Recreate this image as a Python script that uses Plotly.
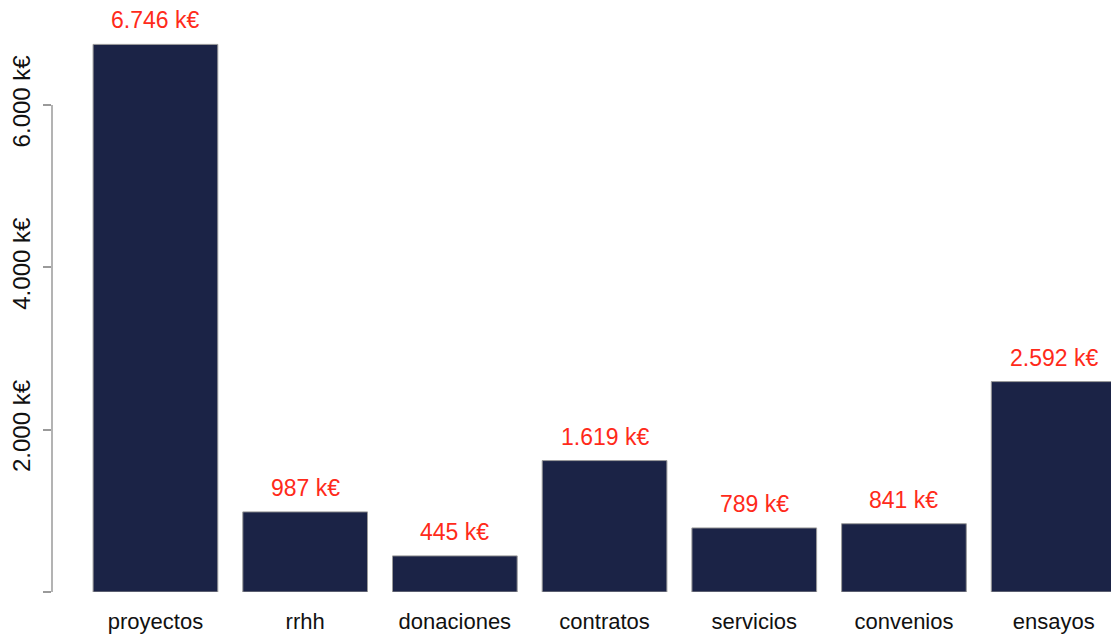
"""Bar chart of amounts by category (k€)."""

import plotly.graph_objects as go

categories = ["proyectos", "rrhh", "donaciones", "contratos", "servicios", "convenios", "ensayos"]
values = [6746, 987, 445, 1619, 789, 841, 2592]
value_labels = ["6.746 k€", "987 k€", "445 k€", "1.619 k€", "789 k€", "841 k€", "2.592 k€"]
y_tickvals = [0, 2000, 4000, 6000]
y_ticktext = ["", "2.000 k€", "4.000 k€", "6.000 k€"]

BAR_COLOR = "#1b2346"
LABEL_COLOR = "#ff2a1a"
FONT = "Liberation Sans, Arial, sans-serif"

fig = go.Figure(
    go.Bar(
        x=categories,
        y=values,
        marker=dict(color=BAR_COLOR, line=dict(color="#9a9a9a", width=1)),
        hoverinfo="skip",
    )
)

# value labels above bars
for cat, val, txt in zip(categories, values, value_labels):
    fig.add_annotation(
        x=cat, y=val, text=txt,
        showarrow=False, yanchor="bottom", yshift=9,
        font=dict(color=LABEL_COLOR, size=23, family=FONT),
    )

# R-style axis line only spanning the tick range
fig.add_shape(
    type="line", xref="paper", yref="y",
    x0=0, x1=0, y0=0, y1=6000,
    line=dict(color="#9a9a9a", width=1.5),
)

fig.update_layout(
    width=1111,
    height=636,
    margin=dict(l=52, r=0, t=0, b=44),
    paper_bgcolor="white",
    plot_bgcolor="white",
    showlegend=False,
    bargap=0.167,
    font=dict(family=FONT, color="#111111"),
    xaxis=dict(
        range=[-0.691, 6.383],
        showgrid=False, zeroline=False, showline=False,
        tickfont=dict(size=22),
        ticks="", ticklabelstandoff=14,
    ),
    yaxis=dict(
        range=[0, 7293],
        showgrid=False, zeroline=False, showline=False,
        tickvals=y_tickvals, ticktext=y_ticktext,
        ticks="outside", ticklen=8, tickcolor="#9a9a9a", tickwidth=1.5,
        tickangle=-90, tickfont=dict(size=24),
        ticklabelstandoff=3,
    ),
)

fig.write_html(
    "out.html",
    config={"displayModeBar": False},
    post_script="document.body.style.margin='0';",
)
